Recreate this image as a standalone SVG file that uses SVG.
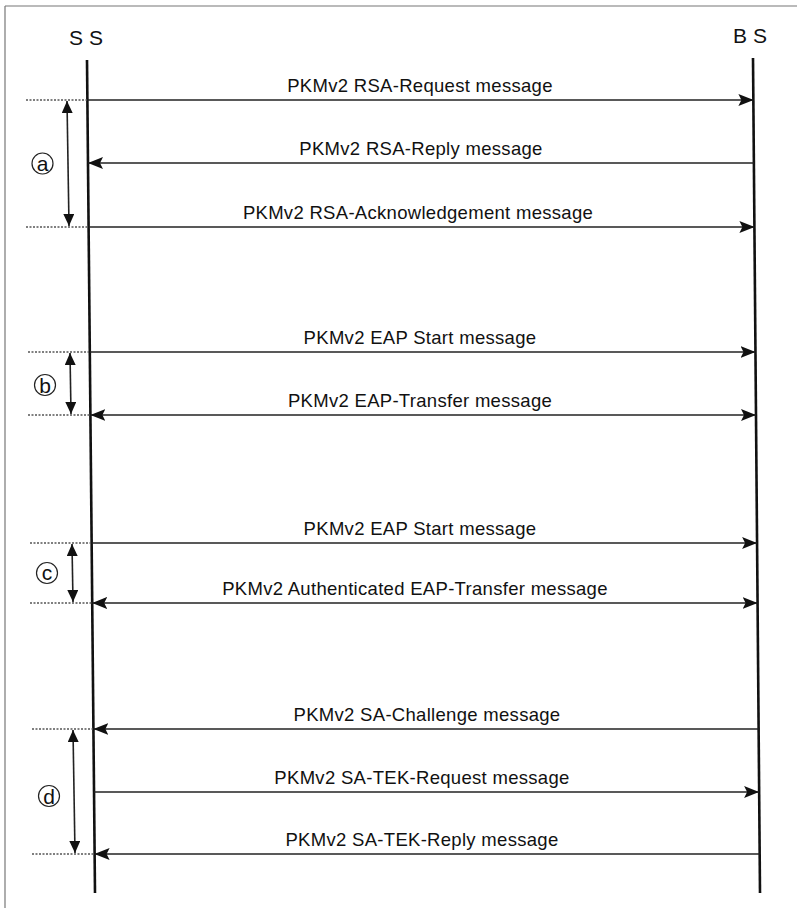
<svg xmlns="http://www.w3.org/2000/svg" width="797" height="910" viewBox="0 0 797 910">
<style>
.frame{stroke:#777;stroke-width:1.2;fill:none}
.life{stroke:#111;stroke-width:2.6;fill:none}
.msg{stroke:#222;stroke-width:1.7;fill:none}
.guide{stroke:#555;stroke-width:1.3;stroke-dasharray:2 1.5;fill:none}
.span{stroke:#222;stroke-width:1.6;fill:none}
.lbl{font-family:"Liberation Sans",Arial,sans-serif;font-size:18.5px;letter-spacing:0.3px;fill:#111;text-anchor:middle}
.ent{font-family:"Liberation Sans",Arial,sans-serif;font-size:21px;fill:#111;text-anchor:middle}
.circ{stroke:#222;stroke-width:1.2;fill:none}
.let{font-family:"Liberation Sans",Arial,sans-serif;font-size:21px;fill:#111;text-anchor:middle}
</style>
<defs>
<marker id="ah" markerUnits="userSpaceOnUse" markerWidth="15" markerHeight="12" refX="15" refY="6" orient="auto-start-reverse" viewBox="0 0 15 12">
<path d="M0,0 L15,6 L0,12 L3,6 z" fill="#111"/>
</marker>
<marker id="sh" markerUnits="userSpaceOnUse" markerWidth="12" markerHeight="11" refX="12" refY="5.5" orient="auto-start-reverse" viewBox="0 0 12 11">
<path d="M0,0 L12,5.5 L0,11 z" fill="#111"/>
</marker>
</defs>

<g id="frame">
<line class="frame" x1="5" y1="6" x2="797" y2="6"/>
<line class="frame" x1="5" y1="6" x2="5" y2="908"/>
</g>

<g id="SS">
<text class="ent" x="86" y="45">S S</text>
<line class="life" x1="87" y1="60" x2="95" y2="893"/>
</g>
<g id="BS">
<text class="ent" x="750" y="43">B S</text>
<line class="life" x1="753" y1="58" x2="760" y2="893"/>
</g>

<g id="connectors">
<line class="msg" x1="87.4" y1="100" x2="753.4" y2="100" marker-end="url(#ah)"/>
<line class="msg" x1="753.9" y1="163" x2="88.0" y2="163" marker-end="url(#ah)"/>
<line class="msg" x1="88.6" y1="227" x2="754.4" y2="227" marker-end="url(#ah)"/>
<line class="msg" x1="89.8" y1="352" x2="755.5" y2="352" marker-end="url(#ah)"/>
<line class="msg" x1="90.4" y1="415" x2="756.0" y2="415" marker-start="url(#ah)" marker-end="url(#ah)"/>
<line class="msg" x1="91.6" y1="543" x2="757.1" y2="543" marker-end="url(#ah)"/>
<line class="msg" x1="92.2" y1="603" x2="757.6" y2="603" marker-start="url(#ah)" marker-end="url(#ah)"/>
<line class="msg" x1="758.6" y1="729" x2="93.4" y2="729" marker-end="url(#ah)"/>
<line class="msg" x1="94.0" y1="792" x2="759.1" y2="792" marker-end="url(#ah)"/>
<line class="msg" x1="759.7" y1="854" x2="94.6" y2="854" marker-end="url(#ah)"/>

<line class="guide" x1="26" y1="100" x2="87" y2="100"/>
<line class="guide" x1="26" y1="227" x2="88" y2="227"/>
<line class="guide" x1="28" y1="352" x2="89" y2="352"/>
<line class="guide" x1="28" y1="415" x2="90" y2="415"/>
<line class="guide" x1="30" y1="543" x2="91" y2="543"/>
<line class="guide" x1="30" y1="603" x2="92" y2="603"/>
<line class="guide" x1="32" y1="729" x2="93" y2="729"/>
<line class="guide" x1="32" y1="854" x2="94" y2="854"/>

<line class="span" x1="67" y1="101" x2="69" y2="226" marker-start="url(#sh)" marker-end="url(#sh)"/>
<line class="span" x1="70" y1="353" x2="71" y2="414" marker-start="url(#sh)" marker-end="url(#sh)"/>
<line class="span" x1="72" y1="544" x2="73" y2="602" marker-start="url(#sh)" marker-end="url(#sh)"/>
<line class="span" x1="73" y1="730" x2="75" y2="853" marker-start="url(#sh)" marker-end="url(#sh)"/>
</g>

<g id="labels">
<text class="lbl" x="420" y="92">PKMv2 RSA-Request message</text>
<text class="lbl" x="421" y="155">PKMv2 RSA-Reply message</text>
<text class="lbl" x="418" y="219">PKMv2 RSA-Acknowledgement message</text>
<text class="lbl" x="420" y="344">PKMv2 EAP Start message</text>
<text class="lbl" x="420" y="407">PKMv2 EAP-Transfer message</text>
<text class="lbl" x="420" y="535">PKMv2 EAP Start message</text>
<text class="lbl" x="415" y="595">PKMv2 Authenticated EAP-Transfer message</text>
<text class="lbl" x="427" y="721">PKMv2 SA-Challenge message</text>
<text class="lbl" x="422" y="784">PKMv2 SA-TEK-Request message</text>
<text class="lbl" x="422" y="846">PKMv2 SA-TEK-Reply message</text>
</g>

<g id="mark-a">
<circle class="circ" cx="42.5" cy="163.5" r="10.5"/>
<text class="let" x="42.5" y="170.5">a</text>
</g>
<g id="mark-b">
<circle class="circ" cx="45" cy="385" r="10.5"/>
<text class="let" x="45" y="392.5">b</text>
</g>
<g id="mark-c">
<circle class="circ" cx="47" cy="573" r="10.5"/>
<text class="let" x="47" y="580">c</text>
</g>
<g id="mark-d">
<circle class="circ" cx="49" cy="796" r="10.5"/>
<text class="let" x="49" y="803.5">d</text>
</g>
</svg>
